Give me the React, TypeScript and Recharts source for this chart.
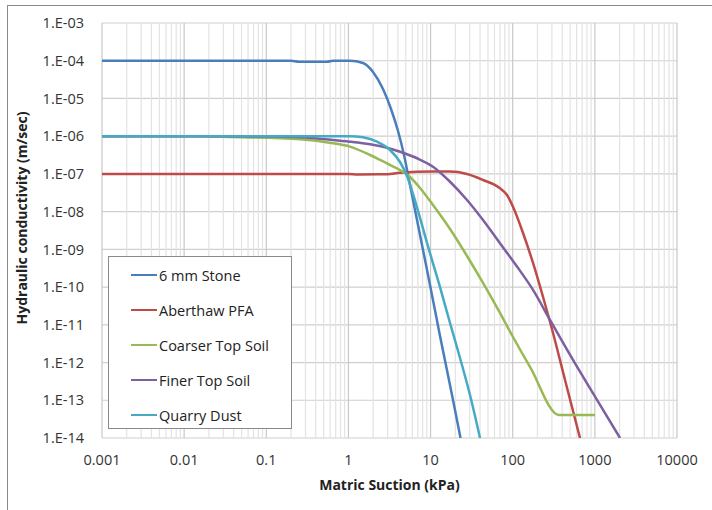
import React from 'react';
import { LineChart, Line, XAxis, YAxis, CartesianGrid, ReferenceLine, Label } from 'recharts';

// matric suction (kPa) / hydraulic conductivity (m/sec)
const stoneSuction = [0.001, 0.2, 0.25, 0.55, 0.65, 1.04, 1.505, 1.992, 2.636, 3.299, 4.015, 4.75, 5.465, 6.287, 7.648, 9.845, 13.03, 18.76, 23.15];
const stoneK = [1e-4, 1e-4, 9.4e-5, 9.4e-5, 1e-4, 1e-4, 8.7e-5, 5.03e-5, 1.78e-5, 5.26e-6, 1.37e-6, 3.17e-7, 6.9e-8, 1.5e-8, 1.77e-9, 1.14e-10, 5.06e-12, 1.02e-13, 1e-14];

const pfaSuction = [0.001, 1.0, 1.3, 3.0, 4.246, 10.7, 17.25, 27.78, 43.5, 70.0, 85.2, 100.8, 133.5, 176.7, 233.9, 309.6, 433.3, 659.6];
const pfaK = [1e-7, 1e-7, 9.7e-8, 9.8e-8, 1.08e-7, 1.15e-7, 1.15e-7, 9.95e-8, 6.9e-8, 4.16e-8, 2.76e-8, 1.35e-8, 2.72e-9, 4.36e-10, 5.47e-11, 6.08e-12, 3.45e-13, 1e-14];

const coarseSuction = [0.001, 0.015, 0.039, 0.258, 0.648, 1.04, 1.831, 2.949, 4.246, 5.62, 7.44, 10.71, 17.25, 27.78, 43.5, 70.0, 100.8, 162.4, 366.1, 1004];
const coarseK = [1e-6, 1e-6, 9.5e-7, 8.3e-7, 6.5e-7, 5.3e-7, 3.17e-7, 1.89e-7, 1.27e-7, 8.3e-8, 4.24e-8, 1.5e-8, 3.47e-9, 6.68e-10, 1.29e-10, 2.06e-11, 4.76e-12, 7.63e-13, 4.07e-14, 4.07e-14];

const fineSuction = [0.001, 0.03, 0.102, 0.258, 0.648, 1.04, 1.505, 2.636, 4.246, 6.84, 10.71, 17.25, 27.78, 43.5, 70.0, 112.8, 176.7, 284.6, 542, 1062, 2025];
const fineK = [1e-6, 1e-6, 9.8e-7, 9.35e-7, 7.93e-7, 7.14e-7, 6.48e-7, 5.27e-7, 3.88e-7, 2.6e-7, 1.55e-7, 6.2e-8, 2.04e-8, 6.0e-9, 1.45e-9, 3.5e-10, 8.4e-11, 1.34e-11, 1.17e-12, 1.02e-13, 1e-14];

const dustSuction = [0.001, 1.04, 1.505, 2.228, 3.209, 4.246, 5.166, 6.11, 7.44, 9.05, 13.03, 17.25, 22.83, 30.2, 40.0];
const dustK = [1e-6, 1e-6, 9.35e-7, 7.14e-7, 4.31e-7, 2.07e-7, 8.8e-8, 2.94e-8, 6.8e-9, 1.48e-9, 1.0e-10, 1.12e-11, 1.32e-12, 1.38e-13, 1e-14];

const seriesNames = ['6 mm Stone', 'Aberthaw PFA', 'Coarser Top Soil', 'Finer Top Soil', 'Quarry Dust'];
const seriesColors = ['#4A7EBB', '#BE4B48', '#98B954', '#7D60A0', '#46AAC5'];

const xTicks = [0.001, 0.01, 0.1, 1, 10, 100, 1000, 10000];
const yExponents = [14, 13, 12, 11, 10, 9, 8, 7, 6, 5, 4, 3];

const yTicks = yExponents.map(e => Number(`1e-${e}`));
const xMinor = xTicks.slice(0, -1).flatMap(d => [2, 3, 4, 5, 6, 7, 8, 9].map(k => d * k));

const toPoints = (xs: number[], ys: number[]) => xs.map((x, i) => ({ x, k: ys[i] }));
const seriesData = [
  toPoints(stoneSuction, stoneK),
  toPoints(pfaSuction, pfaK),
  toPoints(coarseSuction, coarseK),
  toPoints(fineSuction, fineK),
  toPoints(dustSuction, dustK),
];

const fmtY = (v: number) => '1.E-' + String(Math.round(-Math.log10(v))).padStart(2, '0');
const fmtX = (v: number) => (v < 1 ? v.toFixed(Math.round(-Math.log10(v))) : String(Math.round(v)));

const font = '"Open Sans", Lato, sans-serif';
const tickStyle = { fill: '#333', fontSize: 14.5, fontFamily: font };
const titleStyle = { fill: '#222', fontSize: 14, fontWeight: 700, fontFamily: font };

const App = () => {
  return (
    <div style={{ position: 'relative', width: 712, height: 510, background: '#fff', fontFamily: font }}>
      <style>{`body{margin:0}`}</style>
      <div style={{ position: 'absolute', left: 7, top: 5, right: 0, bottom: 0, borderTop: '1.5px solid #8a8a8a', borderLeft: '1.5px solid #8a8a8a' }} />
      <LineChart width={712} height={510} margin={{ top: 23, right: 35, bottom: 22, left: 42 }} style={{ position: 'absolute', left: 0, top: 0 }}>
        <CartesianGrid vertical={false} stroke="#cfcfcf" strokeWidth={1.2} />
        {xMinor.map(v => (
          <ReferenceLine key={'m' + v} x={v} stroke="#e3e3e3" strokeWidth={1.2} />
        ))}
        {xTicks.map(v => (
          <ReferenceLine key={'M' + v} x={v} stroke="#c8c8c8" strokeWidth={1.2} />
        ))}
        <XAxis
          type="number"
          dataKey="x"
          scale="log"
          domain={[0.001, 10000]}
          ticks={xTicks}
          tickFormatter={fmtX}
          allowDataOverflow
          axisLine={false}
          tickLine={false}
          tickSize={6}
          tickMargin={11}
          height={50}
          tick={tickStyle}
        >
          <Label value="Matric Suction (kPa)" position="insideBottom" offset={-2} style={titleStyle} />
        </XAxis>
        <YAxis
          type="number"
          dataKey="k"
          scale="log"
          domain={[1e-14, 1e-3]}
          ticks={yTicks}
          tickFormatter={fmtY}
          allowDataOverflow
          axisLine={false}
          tickLine={false}
          tickSize={6}
          tickMargin={12}
          width={60}
          tick={tickStyle}
        >
          <Label
            content={() => (
              <text transform="translate(21,218) rotate(-90)" textAnchor="middle" dominantBaseline="central" style={titleStyle}>
                Hydraulic conductivity (m/sec)
              </text>
            )}
          />
        </YAxis>
        {seriesData.map((d, i) => (
          <Line
            key={seriesNames[i]}
            data={d}
            dataKey="k"
            name={seriesNames[i]}
            stroke={seriesColors[i]}
            strokeWidth={2.5}
            dot={false}
            type="monotone"
            isAnimationActive={false}
          />
        ))}
      </LineChart>
      <div style={{ position: 'absolute', left: 108, top: 256, width: 184, height: 173, border: '1px solid #8a8a8a', background: '#fff', boxSizing: 'border-box' }}>
        {seriesNames.map((n, i) => (
          <div key={n} style={{ position: 'absolute', left: 22, top: 8 + i * 35, height: 20, display: 'flex', alignItems: 'center', fontSize: 14.5, color: '#222', whiteSpace: 'nowrap' }}>
            <span style={{ display: 'inline-block', width: 26, height: 2.5, background: seriesColors[i], marginRight: 2 }} />
            {n}
          </div>
        ))}
      </div>
    </div>
  );
};

export default App;
